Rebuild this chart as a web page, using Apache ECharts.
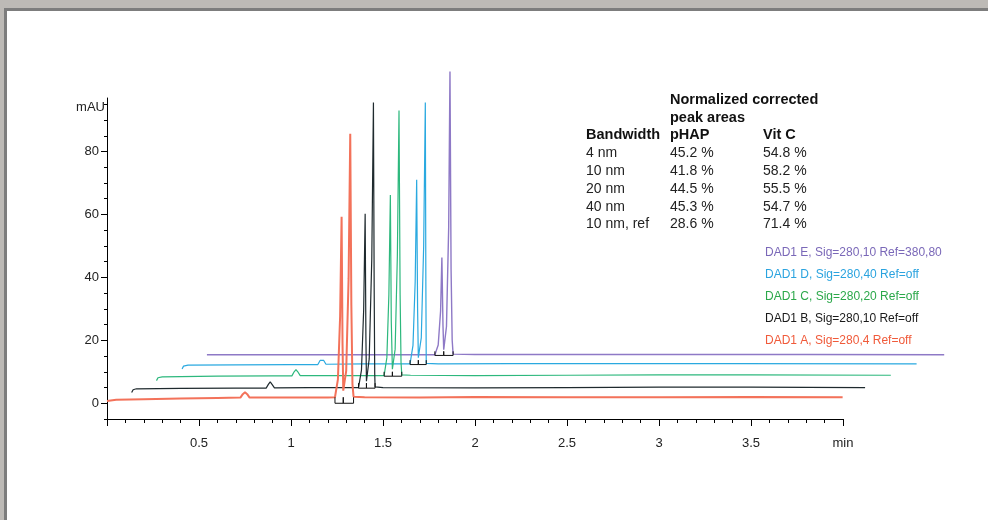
<!DOCTYPE html>
<html>
<head>
<meta charset="utf-8">
<title>DAD1 bandwidth overlay</title>
<script src="https://cdn.jsdelivr.net/npm/echarts@6/dist/echarts.min.js"></script>
<style>
html, body { margin: 0; padding: 0; }
body { width: 988px; height: 520px; background: #bdbab6; position: relative; overflow: hidden; }
#frame { position: absolute; left: 4px; top: 8px; width: 981px; height: 509px;
         border-left: 3px solid #7d7d7d; border-top: 3px solid #7d7d7d; background: #fff; }
#main { position: absolute; left: 0; top: 0; width: 988px; height: 520px; }
</style>
</head>
<body>
<div id="frame"></div>
<div id="main"></div>

<script type="text/javascript">
// signal names, top to bottom as in the label list
var traceNames = ['DAD1 E, Sig=280,10 Ref=380,80', 'DAD1 D, Sig=280,40 Ref=off',
                  'DAD1 C, Sig=280,20 Ref=off', 'DAD1 B, Sig=280,10 Ref=off', 'DAD1 A, Sig=280,4 Ref=off'];

// [time min, mAU] (already offset in the plot)
var traceA = [[0.000,0.7],[0.05,1.1],[0.20,1.3],[0.40,1.5],[0.60,1.7],[0.725,1.8],[0.738,2.9],[0.750,3.5],[0.762,2.9],[0.775,1.8],
              [1.00,1.8],[1.20,1.8],[1.239,1.9],[1.255,7.6],[1.267,27.7],[1.275,59.3],[1.280,19.1],[1.284,4.0],[1.300,10.3],[1.313,39.6],
              [1.322,85.6],[1.328,31.2],[1.334,6.1],[1.340,2.1],[1.40,1.9],[1.70,1.8],[2.00,2.0],[2.50,1.9],[3.00,1.9],[3.50,2.0],[3.998,1.9]];
var traceB = [[0.134,3.4],[0.142,4.3],[0.16,4.6],[0.40,4.7],[0.70,4.8],[0.865,4.8],[0.877,6.0],[0.887,6.8],[0.897,6.0],[0.910,4.9],
              [1.10,5.0],[1.30,5.0],[1.367,5.0],[1.383,10.5],[1.395,29.8],[1.403,60.2],[1.407,21.6],[1.410,7.0],[1.425,14.1],[1.439,45.8],
              [1.448,95.6],[1.452,36.7],[1.455,9.5],[1.457,5.2],[1.50,5.0],[2.00,4.9],[2.50,5.0],[3.00,5.1],[3.50,5.1],[4.12,5.0]];
var traceC = [[0.269,7.2],[0.277,8.1],[0.30,8.4],[0.60,8.6],[0.90,8.7],[1.005,8.7],[1.017,10.0],[1.027,10.7],[1.037,10.0],[1.050,8.8],
              [1.30,8.8],[1.506,8.8],[1.521,14.5],[1.532,34.6],[1.540,66.2],[1.545,26.0],[1.551,10.8],[1.566,17.2],[1.578,46.7],[1.587,93.0],
              [1.593,34.5],[1.598,13.0],[1.602,9.0],[1.65,8.9],[2.00,8.8],[2.50,8.9],[3.00,9.0],[3.50,9.0],[4.26,8.9]];
var traceD = [[0.408,10.9],[0.416,11.8],[0.44,12.1],[0.70,12.2],[1.00,12.3],[1.146,12.3],[1.158,13.6],[1.168,14.1],[1.178,13.6],[1.190,12.4],
              [1.40,12.5],[1.647,12.5],[1.663,18.4],[1.675,38.8],[1.683,71.0],[1.688,30.0],[1.692,14.5],[1.708,20.8],[1.721,49.9],[1.730,95.6],
              [1.733,37.4],[1.735,12.7],[1.80,12.5],[2.20,12.6],[2.80,12.6],[3.40,12.6],[4.40,12.5]];
var traceE = [[0.543,15.4],[0.80,15.4],[1.10,15.4],[1.50,15.4],[1.782,15.4],[1.800,18.5],[1.813,29.3],[1.820,46.3],[1.826,24.7],[1.830,17.0],
              [1.845,24.4],[1.857,55.9],[1.864,105.4],[1.870,42.4],[1.876,20.0],[1.881,15.6],[2.00,15.5],[2.60,15.5],[3.20,15.5],[3.80,15.5],[4.55,15.4]];

// integration baseline markers (start, valley, end)
var bracketA = [[1.239,1.9],[1.239,0],[1.284,0],[1.284,1.9],[1.284,0],[1.340,0],[1.340,1.9]];
var bracketB = [[1.367,6.4],[1.367,4.8],[1.410,4.8],[1.410,6.4],[1.410,4.8],[1.457,4.8],[1.457,6.4]];
var bracketC = [[1.506,10.0],[1.506,8.6],[1.551,8.6],[1.551,10.0],[1.551,8.6],[1.602,8.6],[1.602,10.0]];
var bracketD = [[1.647,13.7],[1.647,12.3],[1.692,12.3],[1.692,13.7],[1.692,12.3],[1.735,12.3],[1.735,13.7]];
var bracketE = [[1.782,16.5],[1.782,15.2],[1.830,15.2],[1.830,16.5],[1.830,15.2],[1.881,15.2],[1.881,16.5]];

var yTicks = [0, 20, 40, 60, 80];
var xTicks = [0.5, 1, 1.5, 2, 2.5, 3, 3.5, 4];

var tableHead = ['Bandwidth', 'pHAP', 'Vit C'];
var bandwidths = ['4 nm', '10 nm', '20 nm', '40 nm', '10 nm, ref'];
var pHAP = ['45.2 %', '41.8 %', '44.5 %', '45.3 %', '28.6 %'];
var vitC = ['54.8 %', '58.2 %', '55.5 %', '54.7 %', '71.4 %'];

var traceColors = ['#8e79c6', '#2aa9e0', '#2db87d', '#1f2a2e', '#f3725a'];
var textColors  = ['#7a68b8', '#2aa3df', '#2ba84a', '#1a1a1a', '#f05a3a'];
var FONT = 'Arial, "Liberation Sans", sans-serif';

// the traces run past the 4 min end of the axis, so they sit in a wider grid
// whose x scale matches the visible axis (184 px per minute)
var PX_PER_MIN = 184;
var DATA_XMAX = 4.6;

var minorY = [];
for (var v = -5; v <= 95; v += 5) { if (yTicks.indexOf(v) < 0) minorY.push(v); }

function txt(s, x, y, size, color, bold, align) {
    return {
        type: 'text', x: x, y: y, silent: true,
        style: { text: s, fill: color, font: (bold ? 'bold ' : '') + size + 'px ' + FONT,
                 align: align || 'left', verticalAlign: 'middle' }
    };
}

var graphics = [];
graphics.push(txt('mAU', 105, 107, 13, '#222', false, 'right'));
graphics.push(txt('Normalized corrected', 670, 100, 14.5, '#111', true));
graphics.push(txt('peak areas', 670, 117.5, 14.5, '#111', true));
graphics.push(txt(tableHead[0], 586, 135, 14.5, '#111', true));
graphics.push(txt(tableHead[1], 670, 135, 14.5, '#111', true));
graphics.push(txt(tableHead[2], 763, 135, 14.5, '#111', true));
for (var i = 0; i < bandwidths.length; i++) {
    var ry = 153 + i * 17.9;
    graphics.push(txt(bandwidths[i], 586, ry, 14, '#222'));
    graphics.push(txt(pHAP[i], 670, ry, 14, '#222'));
    graphics.push(txt(vitC[i], 763, ry, 14, '#222'));
}
for (var j = 0; j < traceNames.length; j++) {
    graphics.push(txt(traceNames[j], 765, 253 + j * 21.8, 12, textColors[j]));
}

function trace(data, color, width, z) {
    return { type: 'line', data: data, showSymbol: false, clip: false, z: z,
             xAxisIndex: 0, yAxisIndex: 0,
             lineStyle: { color: color, width: width }, emphasis: { disabled: true } };
}

var myChart = echarts.init(document.getElementById('main'));
myChart.setOption({
    animation: false,
    backgroundColor: 'transparent',
    grid: [
        { left: 107, width: PX_PER_MIN * DATA_XMAX, top: 98, bottom: 101 },
        { left: 107, width: PX_PER_MIN * 4, top: 98, bottom: 101 }
    ],
    xAxis: [{
        gridIndex: 0, type: 'value', min: 0, max: DATA_XMAX, show: false
    }, {
        gridIndex: 1, type: 'value', min: 0, max: 4, interval: 0.5,
        axisLine: { onZero: false, lineStyle: { color: '#000', width: 1 } },
        axisTick: { length: 7, lineStyle: { color: '#000' } },
        minorTick: { show: true, splitNumber: 5, length: 4, lineStyle: { color: '#000' } },
        splitLine: { show: false },
        axisLabel: {
            customValues: xTicks, margin: 18, fontSize: 13, color: '#222', fontFamily: FONT,
            formatter: function (v) { return v === 4 ? 'min' : (v === 0 ? '' : String(v)); }
        }
    }],
    yAxis: [{
        gridIndex: 0, type: 'value', min: -5, max: 97, interval: 5, position: 'left',
        axisLine: { show: true, onZero: false, lineStyle: { color: '#000', width: 1 } },
        axisTick: { length: 3, customValues: minorY, lineStyle: { color: '#000' } },
        splitLine: { show: false },
        axisLabel: {
            customValues: yTicks, margin: 8, fontSize: 13, color: '#222', fontFamily: FONT,
            formatter: function (v) { return (v >= 0 && v % 20 === 0) ? String(v) : ''; }
        }
    }, {
        gridIndex: 0, type: 'value', min: -5, max: 97, interval: 5, position: 'left',
        axisLine: { show: false },
        axisTick: { show: true, length: 6, customValues: yTicks, lineStyle: { color: '#000' } },
        axisLabel: { show: false },
        splitLine: { show: false }
    }, {
        gridIndex: 1, type: 'value', min: -5, max: 97, show: false
    }],
    graphic: graphics,
    series: [
        trace(traceE, traceColors[0], 1.4, 2),
        trace(traceD, traceColors[1], 1.2, 3),
        trace(traceC, traceColors[2], 1.2, 4),
        trace(traceB, traceColors[3], 1.2, 5),
        trace(traceA, traceColors[4], 2, 6),
        trace(bracketA, '#111', 1, 7),
        trace(bracketB, '#111', 1, 7),
        trace(bracketC, '#111', 1, 7),
        trace(bracketD, '#111', 1, 7),
        trace(bracketE, '#111', 1, 7)
    ]
});
</script>
</body>
</html>
